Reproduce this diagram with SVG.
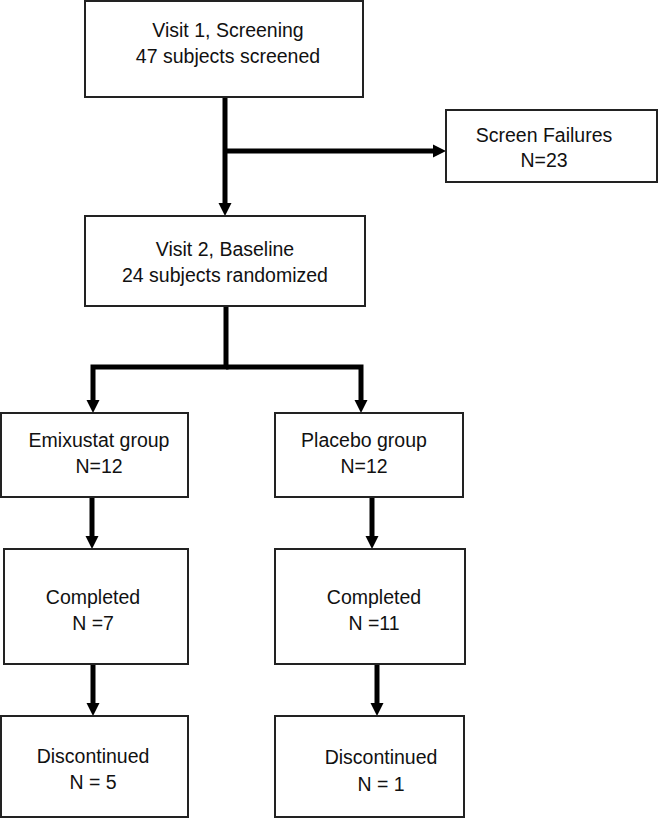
<svg xmlns="http://www.w3.org/2000/svg" width="658" height="819" viewBox="0 0 658 819">
<style>
.box{fill:#fff;stroke:#222;stroke-width:2}
.t{font-family:"Liberation Sans",Arial,sans-serif;font-size:19.5px;fill:#111;text-anchor:middle}
.c{fill:none;stroke:#000;stroke-width:5}
</style>
<defs>
<marker id="ah" markerUnits="userSpaceOnUse" markerWidth="14" markerHeight="14" refX="3" refY="7" orient="auto" viewBox="0 0 14 14">
<path d="M0,0.5 L13,7 L0,13.5 z" fill="#000"/>
</marker>
</defs>
<rect width="658" height="819" fill="#fff"/>
<g id="connectors">
<path class="c" d="M225,97 V206" marker-end="url(#ah)"/>
<path class="c" d="M225,151 H436" marker-end="url(#ah)"/>
<path class="c" d="M226,306 V367 H93 V403" marker-end="url(#ah)"/>
<path class="c" d="M226,367 H361 V403" marker-end="url(#ah)"/>
<path class="c" d="M92,497 V539" marker-end="url(#ah)"/>
<path class="c" d="M372,497 V539" marker-end="url(#ah)"/>
<path class="c" d="M93,664 V706" marker-end="url(#ah)"/>
<path class="c" d="M377,664 V706" marker-end="url(#ah)"/>
</g>
<g id="screening">
<rect class="box" x="85" y="1" width="278" height="96"/>
<text class="t" x="228" y="37">Visit 1, Screening</text>
<text class="t" x="228" y="63">47 subjects screened</text>
</g>
<g id="screen-failures">
<rect class="box" x="446" y="110" width="211" height="72"/>
<text class="t" x="544" y="142">Screen Failures</text>
<text class="t" x="544" y="167">N=23</text>
</g>
<g id="baseline">
<rect class="box" x="85" y="216" width="280" height="90"/>
<text class="t" x="225" y="256">Visit 2, Baseline</text>
<text class="t" x="225" y="282">24 subjects randomized</text>
</g>
<g id="emixustat">
<rect class="box" x="1" y="413" width="187" height="84"/>
<text class="t" x="99" y="447">Emixustat group</text>
<text class="t" x="99" y="473">N=12</text>
</g>
<g id="placebo">
<rect class="box" x="275" y="413" width="188" height="84"/>
<text class="t" x="364" y="447">Placebo group</text>
<text class="t" x="364" y="473">N=12</text>
</g>
<g id="completed-emixustat">
<rect class="box" x="4" y="549" width="184" height="115"/>
<text class="t" x="93" y="604">Completed</text>
<text class="t" x="93" y="630">N =7</text>
</g>
<g id="completed-placebo">
<rect class="box" x="275" y="549" width="190" height="115"/>
<text class="t" x="374" y="604">Completed</text>
<text class="t" x="374" y="630">N =11</text>
</g>
<g id="discontinued-emixustat">
<rect class="box" x="1" y="716" width="187" height="101"/>
<text class="t" x="93" y="763">Discontinued</text>
<text class="t" x="93" y="789">N = 5</text>
</g>
<g id="discontinued-placebo">
<rect class="box" x="275" y="716" width="189" height="101"/>
<text class="t" x="381" y="764">Discontinued</text>
<text class="t" x="381" y="791">N = 1</text>
</g>
</svg>
